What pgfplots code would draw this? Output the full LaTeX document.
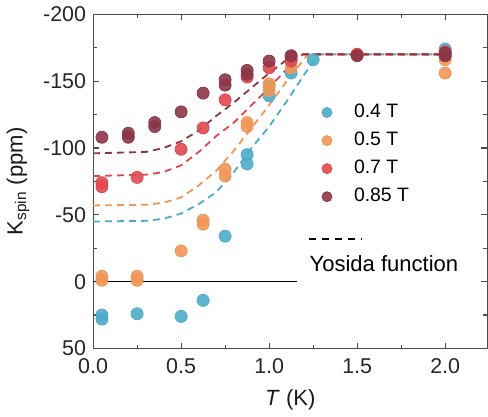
\documentclass[border=0pt]{standalone}
\usepackage{pgfplots}
\pgfplotsset{compat=1.18}
\usepackage{fontspec}
\setmainfont{Liberation Sans}
\definecolor{cblue}{RGB}{76,172,200}
\definecolor{corange}{RGB}{240,150,88}
\definecolor{cred}{RGB}{224,72,80}
\definecolor{cdark}{RGB}{140,54,72}
\begin{document}
\begin{tikzpicture}
\begin{axis}[
  scale only axis,
  width=197pt, height=167pt,
  xmin=0, xmax=2.24, ymin=-200, ymax=50,
  y dir=reverse,
  xtick={0,0.5,1,1.5,2}, minor x tick num=1,
  ytick={-200,-150,-100,-50,0,50}, minor y tick num=1,
  xticklabel style={yshift=-1.5pt, /pgf/number format/.cd, fixed, fixed zerofill, precision=1},
  /pgf/number format/assume math mode=true,
  tick label style={font=\fontsize{10.7}{12}\selectfont, text=black!85},
  axis line style={black!70, line width=0.6pt},
  major tick length=3pt, minor tick length=2pt,
  every tick/.style={black!70, line width=0.6pt},
  xlabel={\textit{T} (K)}, ylabel={K\textsubscript{spin} (ppm)},
  label style={font=\fontsize{11}{13}\selectfont, text=black!90},
  xlabel shift=1pt,
  legend style={at={(axis cs:1.294,-136)}, anchor=north west, draw=none, fill=none,
    font=\fontsize{9.7}{11}\selectfont, row sep=1.75pt, inner sep=0pt},
  legend cell align=left,
  legend image code/.code={\draw[#1, mark size=2.5pt] plot coordinates {(0.1cm,0cm)}; \path[draw=none, fill=none] (0cm,0cm) -- ([xshift=11.5pt]0.1cm,0cm);},
]
% data points
\addplot[only marks, mark=*, mark size=3pt, mark options={draw=none, fill=cblue, fill opacity=0.9}, color=cblue]
coordinates {(0.05,25)(0.05,28)(0.25,24)(0.5,26)(0.625,14)(0.75,-34)(0.875,-88)(0.875,-95)
(1.0,-139)(1.0,-146)(1.125,-156)(1.25,-166)(1.5,-170)(2.0,-171)(2.0,-174)};
\addlegendentry{0.4 T}
\addplot[only marks, mark=*, mark size=3pt, mark options={draw=none, fill=corange, fill opacity=0.9}, color=corange]
coordinates {(0.05,-1)(0.05,-4)(0.25,-1)(0.25,-4)(0.5,-23)(0.625,-43)(0.625,-46)(0.75,-79)(0.75,-84)
(0.875,-116)(0.875,-119)(1.0,-143)(1.0,-148)(1.125,-160)(1.5,-170)(2.0,-166)(2.0,-156)};
\addlegendentry{0.5 T}
\addplot[only marks, mark=*, mark size=3pt, mark options={draw=none, fill=cred, fill opacity=0.9}, color=cred]
coordinates {(0.05,-71)(0.05,-74)(0.25,-78)(0.5,-99)(0.625,-115)(0.75,-136)(0.875,-153)
(1.0,-160)(1.125,-165)(1.125,-168)(1.5,-170)(2.0,-169)(2.0,-172)};
\addlegendentry{0.7 T}
\addplot[only marks, mark=*, mark size=3pt, mark options={draw=none, fill=cdark, fill opacity=0.9}, color=cdark]
coordinates {(0.05,-108)(0.2,-108)(0.2,-111)(0.35,-116)(0.35,-119)(0.5,-127)(0.625,-141)(0.75,-147)(0.75,-151)
(0.875,-155)(0.875,-158)(1.0,-165)(1.125,-169)(1.5,-169)(2.0,-169)(2.0,-171)};
\addlegendentry{0.85 T}
% zero line
\addplot[forget plot, black, line width=0.6pt] coordinates {(0,0)(1.16,0)};
% Yosida curves
\addplot[forget plot, cblue, line width=0.9pt, dash pattern=on 3.5pt off 2.5pt] coordinates {
(0,-45)(0.3,-45.5)(0.4,-47)(0.5,-51)(0.6,-58)(0.7,-67)(0.8,-82)(0.9,-100)(1.0,-116)(1.1,-135)(1.2,-155)(1.28,-170)(2.0,-170)};
\addplot[forget plot, corange, line width=0.9pt, dash pattern=on 3.5pt off 2.5pt] coordinates {
(0,-57)(0.3,-57.5)(0.4,-59)(0.5,-63)(0.6,-72)(0.7,-83)(0.8,-98)(0.9,-115)(1.0,-132)(1.1,-150)(1.22,-170)(2.0,-170)};
\addplot[forget plot, cred, line width=0.9pt, dash pattern=on 3.5pt off 2.5pt] coordinates {
(0,-79)(0.3,-80)(0.4,-82)(0.5,-87)(0.6,-97)(0.7,-109)(0.8,-119)(0.9,-132)(1.0,-145)(1.1,-159)(1.19,-170)(2.0,-170)};
\addplot[forget plot, cdark, line width=0.9pt, dash pattern=on 3.5pt off 2.5pt] coordinates {
(0,-96)(0.3,-97)(0.4,-100)(0.5,-105)(0.6,-113)(0.7,-124)(0.8,-134)(0.9,-145)(1.0,-156)(1.1,-166)(1.15,-170)(2.0,-170)};
% Yosida legend key
\addplot[forget plot, black, line width=0.9pt, dash pattern=on 3.5pt off 3pt] coordinates {(1.227,-32)(1.525,-32)};
\node[anchor=base west, font=\fontsize{11}{13}\selectfont, inner sep=0pt] at (axis cs:1.228,-7.5) {Yosida function};
\end{axis}
\end{tikzpicture}
\end{document}
